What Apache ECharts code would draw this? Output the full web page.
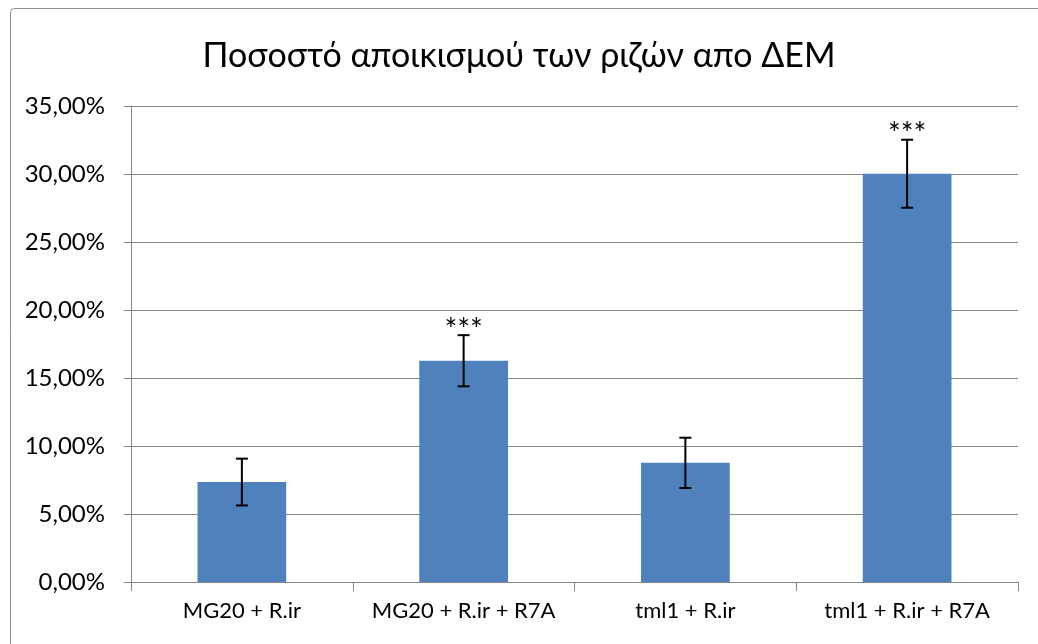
<!DOCTYPE html>
<html>
<head>
<meta charset="utf-8">
<script src="https://cdn.jsdelivr.net/npm/echarts@6/dist/echarts.min.js"></script>
<style>
  html, body { margin: 0; padding: 0; background: #fff; }
  #chart { width: 1038px; height: 644px; }
</style>
</head>
<body>
<div id="chart"></div>
<script>
var categories = ['MG20 + R.ir', 'MG20 + R.ir + R7A', 'tml1 + R.ir', 'tml1 + R.ir + R7A'];
var values = [7.35, 16.27, 8.76, 30.02];      // %
var errors = [1.72, 1.88, 1.85, 2.5];         // ± %
var stars = ['', '***', '', '***'];

var fontFam = 'Lato, "Open Sans", sans-serif';

function pct(v) {
    return v.toFixed(2).replace('.', ',') + '%';
}

var errData = values.map(function (v, i) {
    return [i, v - errors[i], v + errors[i], stars[i]];
});

var myChart = echarts.init(document.getElementById('chart'));

var option = {
    backgroundColor: '#fff',
    animation: false,
    title: {
        text: 'Ποσοστό αποικισμού των ριζών απο ΔΕΜ',
        left: 'center',
        top: 34,
        textStyle: {
            color: '#000',
            fontFamily: fontFam,
            fontWeight: 'normal',
            fontSize: 34
        }
    },
    graphic: [{
        type: 'rect',
        left: 8,
        top: 6,
        shape: { width: 1040, height: 660, r: 4 },
        style: { fill: 'none', stroke: '#8c8c8c', lineWidth: 1 },
        silent: true
    }],
    grid: { left: 131, right: 20, top: 106, bottom: 62 },
    xAxis: {
        type: 'category',
        data: categories,
        axisLine: { lineStyle: { color: '#868686', width: 1 } },
        axisTick: { show: true, length: 9, lineStyle: { color: '#868686' } },
        axisLabel: {
            interval: 0,
            hideOverlap: false,
            color: '#000',
            fontFamily: fontFam,
            fontSize: 22,
            margin: 18
        }
    },
    yAxis: {
        type: 'value',
        min: 0,
        max: 35,
        interval: 5,
        axisLine: { show: true, lineStyle: { color: '#868686', width: 1 } },
        axisTick: { show: true, length: 7, lineStyle: { color: '#868686' } },
        splitLine: { lineStyle: { color: '#868686', width: 1 } },
        axisLabel: {
            color: '#000',
            fontFamily: fontFam,
            fontSize: 24,
            margin: 26,
            formatter: pct
        }
    },
    series: [{
        type: 'bar',
        data: values,
        barWidth: '40%',
        itemStyle: { color: '#4F81BD' },
        z: 2
    }, {
        type: 'custom',
        data: errData,
        z: 3,
        renderItem: function (params, api) {
            var x = api.value(0);
            var lo = api.coord([x, api.value(1)]);
            var hi = api.coord([x, api.value(2)]);
            var cap = 6;
            var style = { stroke: '#000', lineWidth: 2 };
            var children = [
                { type: 'line', shape: { x1: hi[0], y1: hi[1], x2: lo[0], y2: lo[1] }, style: style },
                { type: 'line', shape: { x1: hi[0] - cap, y1: hi[1], x2: hi[0] + cap, y2: hi[1] }, style: style },
                { type: 'line', shape: { x1: lo[0] - cap, y1: lo[1], x2: lo[0] + cap, y2: lo[1] }, style: style }
            ];
            var s = api.value(3);
            if (s) {
                children.push({
                    type: 'text',
                    style: {
                        text: s,
                        x: hi[0],
                        y: hi[1] - 5,
                        align: 'center',
                        verticalAlign: 'middle',
                        fill: '#000',
                        font: '30px ' + fontFam
                    }
                });
            }
            return { type: 'group', children: children };
        }
    }]
};

myChart.setOption(option);
</script>
</body>
</html>
